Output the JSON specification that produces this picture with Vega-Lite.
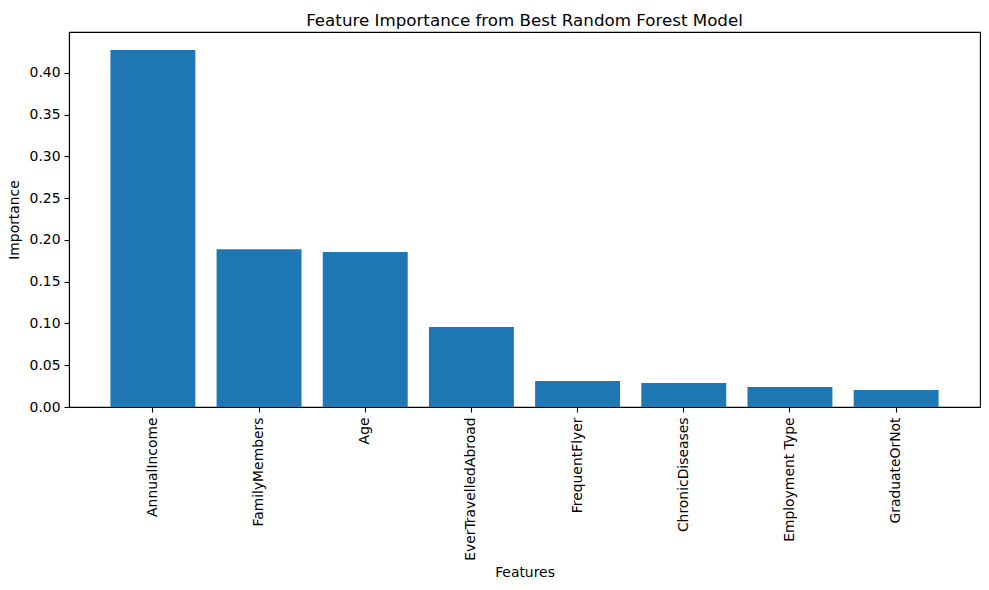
{
  "$schema": "https://vega.github.io/schema/vega-lite/v6.json",
  "autosize": {"type": "none"},
  "padding": {"left": 69, "top": 32, "right": 9, "bottom": 183},
  "width": 911,
  "height": 375,
  "title": {
    "text": "Feature Importance from Best Random Forest Model",
    "anchor": "middle",
    "font": "DejaVu Sans",
    "fontSize": 16.7,
    "fontWeight": "normal",
    "color": "black",
    "baseline": "alphabetic",
    "offset": 7,
    "dy": 18
  },
  "data": {
    "values": [
      {"feature": "AnnualIncome", "importance": 0.4275},
      {"feature": "FamilyMembers", "importance": 0.189},
      {"feature": "Age", "importance": 0.1856},
      {"feature": "EverTravelledAbroad", "importance": 0.0958},
      {"feature": "FrequentFlyer", "importance": 0.0311},
      {"feature": "ChronicDiseases", "importance": 0.0287},
      {"feature": "Employment Type", "importance": 0.024},
      {"feature": "GraduateOrNot", "importance": 0.0204}
    ]
  },
  "mark": {"type": "bar", "color": "#1f77b4"},
  "encoding": {
    "x": {
      "field": "feature",
      "type": "nominal",
      "sort": null,
      "title": "Features",
      "scale": {"paddingInner": 0.2, "paddingOuter": 0.39},
      "axis": {"labelAngle": -90, "labelPadding": 5, "titlePadding": 5}
    },
    "y": {
      "field": "importance",
      "type": "quantitative",
      "title": "Importance",
      "scale": {"domain": [0, 0.449], "nice": false, "zero": true},
      "axis": {"values": [0, 0.05, 0.1, 0.15, 0.2, 0.25, 0.3, 0.35, 0.4], "format": ".2f", "labelPadding": 4, "titlePadding": 8}
    }
  },
  "config": {
    "font": "DejaVu Sans",
    "view": {"stroke": "black", "strokeWidth": 1.1},
    "axis": {
      "grid": false,
      "domainColor": "black",
      "domainWidth": 1.1,
      "tickColor": "black",
      "tickSize": 5,
      "tickWidth": 1.1,
      "labelFont": "DejaVu Sans",
      "labelFontSize": 13.9,
      "labelColor": "black",
      "titleFont": "DejaVu Sans",
      "titleFontSize": 13.9,
      "titleFontWeight": "normal",
      "titleColor": "black"
    }
  }
}
